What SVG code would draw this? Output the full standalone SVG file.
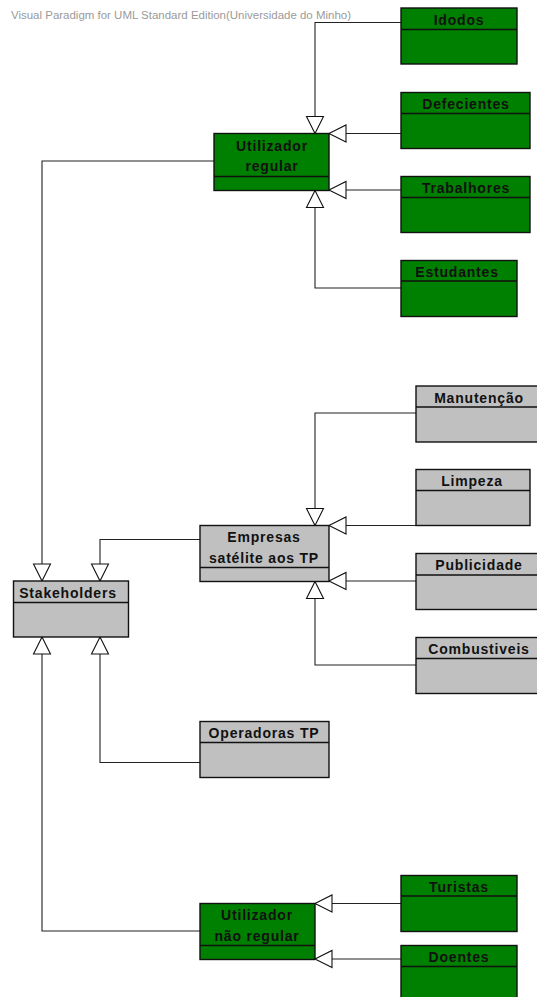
<svg xmlns="http://www.w3.org/2000/svg" width="537" height="997" viewBox="0 0 537 997">
  <style>
    .box { stroke: #111; stroke-width: 1.4; }
    .green { fill: #008000; }
    .gray { fill: #c0c0c0; }
    .sep { stroke: #111; stroke-width: 1.4; fill: none; }
    .lbl { font-family: "Liberation Sans", Arial, sans-serif; font-size: 14px; font-weight: bold; fill: #111; text-anchor: middle; letter-spacing: 0.8px; }
    .edge { fill: none; stroke: #222; stroke-width: 1.1; marker-end: url(#gen); }
    .wm { font-family: "Liberation Sans", Arial, sans-serif; font-size: 10px; fill: #9a9a9a; }
  </style>
  <defs>
    <!-- hollow triangle: UML generalization -->
    <marker id="gen" markerUnits="userSpaceOnUse" viewBox="0 0 17 17" refX="17" refY="8.5" markerWidth="17" markerHeight="17" orient="auto" overflow="visible">
      <path d="M0,0 L17,8.5 L0,17 Z" fill="#fff" stroke="#111" stroke-width="1.1"/>
    </marker>
  </defs>
  <rect width="537" height="997" fill="#fff"/>
  <text class="wm" x="11" y="18.5" textLength="340" lengthAdjust="spacingAndGlyphs">Visual Paradigm for UML Standard Edition(Universidade do Minho)</text>

  <g id="connectors">
    <path class="edge" d="M401,22.5 H315 V133.5"/>
    <path class="edge" d="M401,133.5 H329"/>
    <path class="edge" d="M401,190 H329"/>
    <path class="edge" d="M401,288 H315 V190.5"/>
    <path class="edge" d="M214,161 H42 V581"/>
    <path class="edge" d="M416,413 H315 V525.5"/>
    <path class="edge" d="M416,525.5 H329"/>
    <path class="edge" d="M416,581 H329"/>
    <path class="edge" d="M416,665 H315 V581.5"/>
    <path class="edge" d="M200,539.5 H100 V581"/>
    <path class="edge" d="M200,762.5 H100 V637"/>
    <path class="edge" d="M200,931 H42 V637"/>
    <path class="edge" d="M401,903.5 H315"/>
    <path class="edge" d="M401,959 H315"/>
  </g>

  <g id="idodos">
    <rect class="box green" x="401" y="8" width="116" height="56"/>
    <line class="sep" x1="401" y1="29.5" x2="517" y2="29.5"/>
    <text class="lbl" x="459" y="25">Idodos</text>
  </g>
  <g id="defecientes">
    <rect class="box green" x="401" y="92.5" width="129" height="56"/>
    <line class="sep" x1="401" y1="113.5" x2="530" y2="113.5"/>
    <text class="lbl" x="466" y="109">Defecientes</text>
  </g>
  <g id="utilizador-regular">
    <rect class="box green" x="214" y="133.5" width="115" height="57"/>
    <line class="sep" x1="214" y1="176.5" x2="329" y2="176.5"/>
    <text class="lbl" x="272" y="151">Utilizador</text>
    <text class="lbl" x="272" y="171">regular</text>
  </g>
  <g id="trabalhores">
    <rect class="box green" x="401" y="176.5" width="129" height="56"/>
    <line class="sep" x1="401" y1="197.5" x2="530" y2="197.5"/>
    <text class="lbl" x="466" y="193">Trabalhores</text>
  </g>
  <g id="estudantes">
    <rect class="box green" x="401" y="260.5" width="116" height="56"/>
    <line class="sep" x1="401" y1="281" x2="517" y2="281"/>
    <text class="lbl" x="457" y="277">Estudantes</text>
  </g>

  <g id="manutencao">
    <rect class="box gray" x="416" y="386" width="126" height="56"/>
    <line class="sep" x1="416" y1="407" x2="542" y2="407"/>
    <text class="lbl" x="479" y="402.5">Manutenção</text>
  </g>
  <g id="limpeza">
    <rect class="box gray" x="416" y="469.5" width="114" height="56"/>
    <line class="sep" x1="416" y1="490.5" x2="530" y2="490.5"/>
    <text class="lbl" x="472" y="486">Limpeza</text>
  </g>
  <g id="empresas">
    <rect class="box gray" x="200" y="525.5" width="129" height="56"/>
    <line class="sep" x1="200" y1="567.5" x2="329" y2="567.5"/>
    <text class="lbl" x="264" y="542">Empresas</text>
    <text class="lbl" x="264" y="563">satélite aos TP</text>
  </g>
  <g id="publicidade">
    <rect class="box gray" x="416" y="553.5" width="126" height="56"/>
    <line class="sep" x1="416" y1="575" x2="542" y2="575"/>
    <text class="lbl" x="479" y="570">Publicidade</text>
  </g>
  <g id="combustiveis">
    <rect class="box gray" x="416" y="637.5" width="126" height="56"/>
    <line class="sep" x1="416" y1="658.5" x2="542" y2="658.5"/>
    <text class="lbl" x="479" y="654">Combustiveis</text>
  </g>
  <g id="stakeholders">
    <rect class="box gray" x="13.5" y="581" width="115" height="56"/>
    <line class="sep" x1="13.5" y1="602.5" x2="128.5" y2="602.5"/>
    <text class="lbl" x="68" y="597.5">Stakeholders</text>
  </g>
  <g id="operadoras-tp">
    <rect class="box gray" x="200" y="721.5" width="129" height="56"/>
    <line class="sep" x1="200" y1="742.5" x2="329" y2="742.5"/>
    <text class="lbl" x="264" y="738">Operadoras TP</text>
  </g>

  <g id="utilizador-nao-regular">
    <rect class="box green" x="200" y="903.5" width="115" height="56"/>
    <line class="sep" x1="200" y1="945.5" x2="315" y2="945.5"/>
    <text class="lbl" x="257" y="920">Utilizador</text>
    <text class="lbl" x="257" y="941">não regular</text>
  </g>
  <g id="turistas">
    <rect class="box green" x="401" y="875.5" width="116" height="56"/>
    <line class="sep" x1="401" y1="896" x2="517" y2="896"/>
    <text class="lbl" x="459" y="892">Turistas</text>
  </g>
  <g id="doentes">
    <rect class="box green" x="401" y="945.5" width="116" height="56"/>
    <line class="sep" x1="401" y1="966.5" x2="517" y2="966.5"/>
    <text class="lbl" x="459" y="962">Doentes</text>
  </g>
</svg>
